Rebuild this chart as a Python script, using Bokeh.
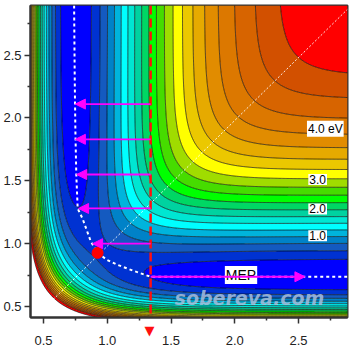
import numpy as np
from bokeh.plotting import figure
from bokeh.models import Label, Arrow, NormalHead, Range1d, FixedTicker, PrintfTickFormatter, Title
from bokeh.embed import file_html
from bokeh.resources import INLINE

# Surface model parameters (collinear LEPS-type surface, eV / Angstrom)
D_e = 5.3
beta = 1.8
r_e = 0.7416
sato_k = 0.15

# contour levels (eV) and band colours
levels = [-1.0, 0.25, 0.5, 0.75, 1.0, 1.25, 1.5, 1.75, 2.0, 2.25, 2.5, 2.75,
          3.0, 3.25, 3.5, 3.75, 4.0, 4.25, 4.5, 4.72, 5.1]
band_colors = ["#0000ff", "#0032d2", "#145ac0", "#0082c8", "#00b4dc", "#00ffff",
               "#00e6d2", "#00d2a0", "#00d764", "#00ff00", "#46dc00", "#a0dc00",
               "#ffff00", "#ebc800", "#e6aa00", "#e18c00", "#dc7800", "#d76400",
               "#d25000", "#ff0000"]

# energy labels
label_text = ["4.0 eV", "3.0", "2.0", "1.0"]
label_x = [2.71, 2.65, 2.65, 2.65]
label_y = [1.913, 1.51, 1.276, 1.063]

# minimum energy path
mep_x = [0.740, 0.745, 0.750, 0.757, 0.768, 0.806, 0.870, 0.924,
         1.000, 1.080, 1.206, 1.340, 1.600, 2.000, 2.500, 2.884]
mep_y = [2.894, 2.300, 1.900, 1.550, 1.280, 1.200, 1.020, 0.927,
         0.870, 0.832, 0.784, 0.737, 0.737, 0.737, 0.737, 0.737]

# cut line and arrows
cut_x = 1.34
cut_top = 2.894
arrow_y = [2.11, 1.83, 1.55, 1.28, 1.00]
arrow_tip_x = [0.75, 0.75, 0.76, 0.775, 0.885]
mep_arrow_y = 0.737
mep_arrow_tip_x = 2.55
saddle_x = [0.924]
saddle_y = [0.927]

x0, x1 = 0.398, 2.884
y0, y1 = 0.413, 2.894


def terms(r):
    e = np.exp(-beta * (r - r_e))
    E1 = D_e * (e * e - 2 * e)
    E3 = 0.5 * D_e * (e * e + 2 * e)
    Q = 0.5 * (E1 * (1 + sato_k) + E3 * (1 - sato_k))
    J = 0.5 * (E1 * (1 + sato_k) - E3 * (1 - sato_k))
    return Q, J


xs = np.linspace(x0, x1, 400)
ys = np.linspace(y0, y1, 400)
X, Y = np.meshgrid(xs, ys)
Q1, J1 = terms(X)
Q2, J2 = terms(Y)
Q3, J3 = terms(X + Y)
V = (Q1 + Q2 + Q3 - np.sqrt(0.5 * ((J1 - J2) ** 2 + (J2 - J3) ** 2 + (J3 - J1) ** 2))) / (1 + sato_k) + D_e
V = np.minimum(V, 20.0)

p = figure(width=354, height=347, output_backend="svg", toolbar_location=None,
           x_range=Range1d(x0, x1), y_range=Range1d(y0, y1),
           min_border_left=30, min_border_right=7, min_border_top=5, min_border_bottom=27)
p.grid.visible = False
p.background_fill_color = "white"
p.outline_line_color = "#333333"
p.outline_line_width = 2

p.contour(x=xs, y=ys, z=V, levels=levels, fill_color=band_colors,
          line_color="black", line_width=0.8, line_alpha=0.85)

# diagonal
p.line([0.575, x1], [0.555, x1 - 0.02], line_color="white", line_width=1, line_dash="2 2", line_alpha=0.9)

# MEP
p.line(mep_x, mep_y, line_color="white", line_width=2, line_dash="3 3")

# watermark
p.add_layout(Label(x=2.115, y=0.572, text="sobereva.com", text_font="DejaVu Sans",
                   text_font_style="bold italic", text_font_size="19px", text_color="#a8bedc",
                   text_alpha=0.85, text_align="center", text_baseline="middle"))

for t, lx, ly in zip(label_text, label_x, label_y):
    p.add_layout(Label(x=lx, y=ly, text=t, text_font="Liberation Sans", text_font_size="12px",
                       text_color="black", text_align="center", text_baseline="middle",
                       background_fill_color="white", padding=1))

p.add_layout(Label(x=2.049, y=0.75, text="MEP", text_font="Liberation Sans", text_font_size="14px",
                   text_color="black", text_align="center", text_baseline="middle",
                   background_fill_color="white", padding=1))

mag = "#ff00ff"
for ay, tx in zip(arrow_y, arrow_tip_x):
    p.add_layout(Arrow(x_start=cut_x, y_start=ay, x_end=tx, y_end=ay, line_color=mag, line_width=1.8,
                       end=NormalHead(size=10, fill_color=mag, line_color=mag)))
p.add_layout(Arrow(x_start=cut_x, y_start=mep_arrow_y, x_end=mep_arrow_tip_x, y_end=mep_arrow_y,
                   line_color=mag, line_width=1.8, end=NormalHead(size=10, fill_color=mag, line_color=mag)))

p.line([cut_x, cut_x], [cut_top, y0], line_color="#ff1010", line_width=2.5, line_dash="9 4")

p.scatter(saddle_x, saddle_y, size=11, color="#ff0000")

for ax in (p.xaxis[0], p.yaxis[0]):
    ax.ticker = FixedTicker(ticks=[0.5, 1.0, 1.5, 2.0, 2.5],
                            minor_ticks=[0.25, 0.75, 1.25, 1.75, 2.25, 2.75])
    ax.formatter = PrintfTickFormatter(format="%.1f")
    ax.axis_line_color = "#333333"
    ax.axis_line_width = 2
    ax.major_tick_line_color = "#333333"
    ax.minor_tick_line_color = "#333333"
    ax.major_tick_line_width = 1.5
    ax.minor_tick_line_width = 1.5
    ax.major_tick_out = 6
    ax.major_tick_in = 0
    ax.minor_tick_out = 3
    ax.minor_tick_in = 0
    ax.major_label_text_font = "Liberation Sans"
    ax.major_label_text_font_size = "13px"
    ax.major_label_text_color = "#222222"
    ax.major_label_standoff = 3
p.xaxis[0].major_label_standoff = 12

# arrow head of the cut line, below the axis
p.add_layout(Title(text="\u25bc", text_color="#ff1010", text_font="DejaVu Sans", text_font_size="13px",
                   text_font_style="normal", align="left", offset=114, standoff=-50,
                   vertical_align="top"), "below")

open("out.html", "w").write(file_html(p, INLINE))
